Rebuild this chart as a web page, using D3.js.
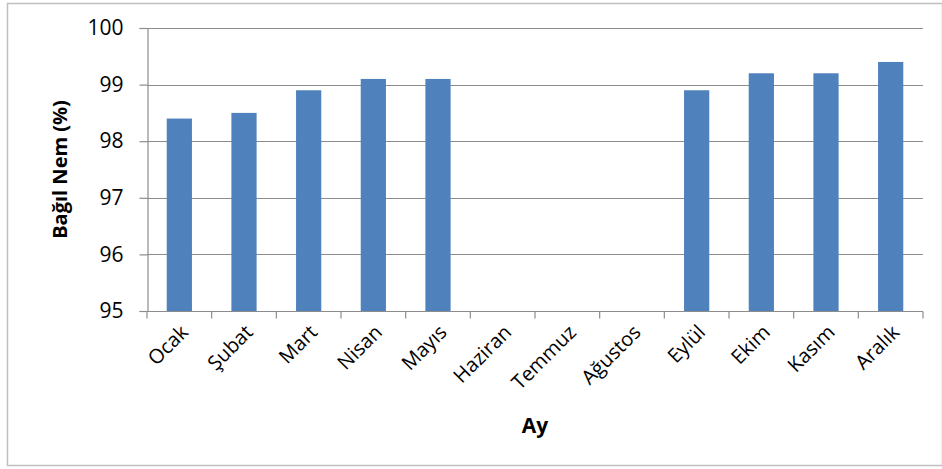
<!DOCTYPE html>
<html>
<head>
<meta charset="utf-8">
<script src="https://cdn.jsdelivr.net/npm/d3@7"></script>
<style>
  body { margin: 0; background: #fff; }
  svg { display: block; }
</style>
</head>
<body>
<svg id="chart" width="942" height="469"></svg>
<script>
// Monthly relative humidity (%)
const months = ["Ocak", "Şubat", "Mart", "Nisan", "Mayıs", "Haziran", "Temmuz", "Ağustos", "Eylül", "Ekim", "Kasım", "Aralık"];
const humidity = [98.4, 98.5, 98.9, 99.1, 99.1, null, null, null, 98.9, 99.2, 99.2, 99.4];
const yTicks = [95, 96, 97, 98, 99, 100];

const svg = d3.select("#chart");
const margin = { left: 147, right: 19, top: 28, bottom: 158 };
const W = 942, H = 469;
const font = "'Open Sans', 'Liberation Sans', Arial, sans-serif";

// Outer frame
svg.append("rect")
  .attr("x", 7.5).attr("y", 3.5)
  .attr("width", W - 7).attr("height", 462)
  .attr("fill", "#fff").attr("stroke", "#bfbfbf").attr("stroke-width", 1.5);

const x = d3.scaleBand().domain(months)
  .range([margin.left, W - margin.right])
  .paddingInner(0.61).paddingOuter(0.305);
const y = d3.scaleLinear().domain([95, 100]).range([H - margin.bottom, margin.top]);

// Horizontal gridlines
svg.append("g").selectAll("line").data(yTicks.filter(t => t > 95)).join("line")
  .attr("x1", margin.left).attr("x2", W - margin.right)
  .attr("y1", d => Math.round(y(d)) + 0.5).attr("y2", d => Math.round(y(d)) + 0.5)
  .attr("stroke", "#8c8c8c").attr("stroke-width", 1.2);

// Bars
svg.append("g").selectAll("rect")
  .data(months.map((m, i) => ({ m, v: humidity[i] })).filter(d => d.v != null))
  .join("rect")
  .attr("x", d => x(d.m)).attr("width", x.bandwidth())
  .attr("y", d => y(d.v)).attr("height", d => y(95) - y(d.v))
  .attr("fill", "#4f81bd");

// Y axis
const yAxis = svg.append("g")
  .attr("transform", `translate(${margin.left + 0.5},0)`)
  .call(d3.axisLeft(y).tickValues(yTicks).tickSize(8).tickPadding(16).tickFormat(d3.format("d")));
yAxis.selectAll("path, line").attr("stroke", "#8c8c8c").attr("stroke-width", 1.2);
yAxis.selectAll("text").attr("font-family", font).attr("font-size", 21).attr("fill", "#000");

// X axis with tick marks on category boundaries
const xg = svg.append("g").attr("transform", `translate(0,${Math.round(y(95)) + 0.5})`);
xg.append("line").attr("x1", margin.left).attr("x2", W - margin.right)
  .attr("stroke", "#8c8c8c").attr("stroke-width", 1.2);
const step = x.step();
const boundaries = d3.range(months.length + 1).map(i => margin.left + i * step);
xg.selectAll("line.tk").data(boundaries).join("line").attr("class", "tk")
  .attr("x1", d => d).attr("x2", d => d).attr("y1", 0).attr("y2", 7)
  .attr("stroke", "#8c8c8c").attr("stroke-width", 1.2);
xg.selectAll("text").data(months).join("text")
  .attr("transform", d => `translate(${x(d) + x.bandwidth() / 2 + 10},${22}) rotate(-45)`)
  .attr("text-anchor", "end")
  .attr("font-family", font).attr("font-size", 20).attr("fill", "#000")
  .text(d => d);

// Axis titles
svg.append("text")
  .attr("transform", `translate(67,${(y(95) + y(100)) / 2}) rotate(-90)`)
  .attr("text-anchor", "middle")
  .attr("font-family", font).attr("font-size", 20).attr("font-weight", "bold")
  .text("Bağıl Nem (%)");
svg.append("text")
  .attr("x", 535).attr("y", 433)
  .attr("text-anchor", "middle")
  .attr("font-family", font).attr("font-size", 21).attr("font-weight", "bold")
  .text("Ay");
</script>
</body>
</html>
